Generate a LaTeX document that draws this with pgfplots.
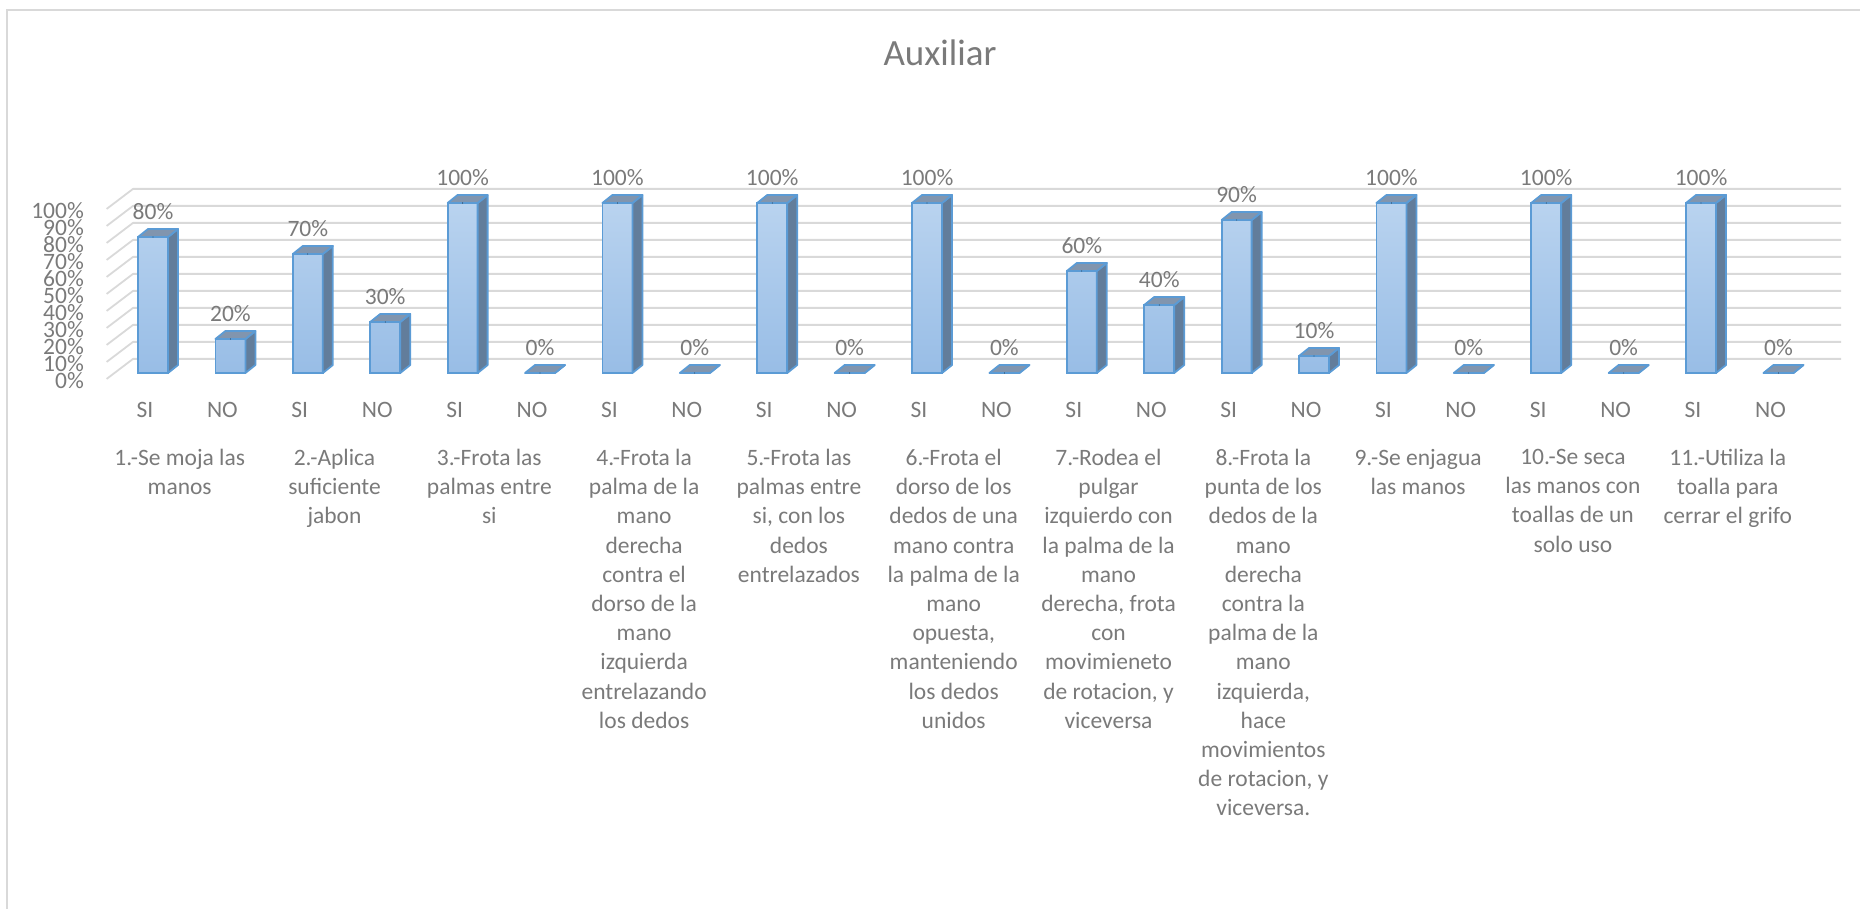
\documentclass[border=0pt]{standalone}
\usepackage{pgfplots}
\pgfplotsset{compat=1.18}
\usepackage{pgfplotstable}
\usepackage{fontspec}
\setmainfont{Carlito}
\definecolor{txt}{HTML}{7A7A7A}
\definecolor{gridc}{HTML}{D9D9D9}
\definecolor{edge}{HTML}{5B9BD5}
\definecolor{fronttop}{HTML}{B9D3EF}
\definecolor{frontbot}{HTML}{98BDE6}
\definecolor{sidec}{HTML}{627D9B}
\definecolor{topc}{HTML}{8195AE}
\pgfplotstableread{
x v
0 80
1 20
2 70
3 30
4 100
5 0
6 100
7 0
8 100
9 0
10 100
11 0
12 60
13 40
14 90
15 10
16 100
17 0
18 100
19 0
20 100
21 0
}\datatable
\begin{document}
\begin{tikzpicture}
\begin{axis}[
  x=77.4pt, y=1.7pt,
  xmin=-0.891, xmax=21.9, ymin=0, ymax=100,
  enlargelimits=false, clip=false,
  axis line style={draw=none},
  major tick length=0pt,
  ytick={0,10,...,100},
  yticklabels={0\%,10\%,20\%,30\%,40\%,50\%,60\%,70\%,80\%,90\%,100\%},
  yticklabel style={anchor=east, inner sep=0pt, yshift=-8pt, font=\fontsize{23.5}{28}\selectfont, text=txt},
  xtick={0,...,21},
  xticklabels={SI,NO,SI,NO,SI,NO,SI,NO,SI,NO,SI,NO,SI,NO,SI,NO,SI,NO,SI,NO,SI,NO},
  xticklabel style={anchor=base, inner sep=0pt, yshift=-44pt, xshift=-8pt, font=\fontsize{23.5}{28}\selectfont, text=txt},
  extra x ticks={0.5,2.5,4.5,6.5,8.5,10.5,12.5,14.5,16.5,18.5,20.5},
  extra x tick labels={
    {1.-Se moja las\\manos},
    {2.-Aplica\\suficiente\\jabon},
    {3.-Frota las\\palmas entre\\si},
    {4.-Frota la\\palma de la\\mano\\derecha\\contra el\\dorso de la\\mano\\izquierda\\entrelazando\\los dedos},
    {5.-Frota las\\palmas entre\\si, con los\\dedos\\entrelazados},
    {6.-Frota el\\dorso de los\\dedos de una\\mano contra\\la palma de la\\mano\\opuesta,\\manteniendo\\los dedos\\unidos},
    {7.-Rodea el\\pulgar\\izquierdo con\\la palma de la\\mano\\derecha, frota\\con\\movimieneto\\de rotacion, y\\viceversa},
    {8.-Frota la\\punta de los\\dedos de la\\mano\\derecha\\contra la\\palma de la\\mano\\izquierda,\\hace\\movimientos\\de rotacion, y\\viceversa.},
    {9.-Se enjagua\\las manos},
    {10.-Se seca\\las manos con\\toallas de un\\solo uso},
    {11.-Utiliza la\\toalla para\\cerrar el grifo}},
  extra x tick style={xticklabel style={anchor=north, align=center, yshift=-32pt, xshift=-4pt, font=\fontsize{23.5}{29.2}\selectfont}},
]
% frame
\coordinate (BL) at (axis cs:-1.977,-315.29);
\coordinate (TR) at (axis cs:22.054,219.41);
\draw[gridc, line width=2pt] (axis cs:-1.8863,-315.29) -- (axis cs:-1.8863,213.5) -- (axis cs:22.054,213.5);
% title
\node[anchor=base, font=\fontsize{37}{44}\selectfont, text=txt] at (axis cs:10.168,180.76) {Auxiliar};
% back wall gridlines and left wall
\pgfplotsinvokeforeach{0,10,...,100}{
  \draw[gridc, line width=1.8pt, line join=round] (axis cs:-0.5995,{#1-3.5}) -- (axis cs:-0.258,{#1+8.3}) -- (axis cs:21.81,{#1+8.3});
}
% side and top faces of the bars
\addplot[scatter, only marks, mark=*, mark size=0.1pt,
  visualization depends on={rawy \as \val},
  scatter/@pre marker code/.code={%
    \pgfkeys{/pgf/fpu=false}%
    \pgfmathsetmacro\H{1.7*\val}%
    \path[fill=sidec, draw=edge, line width=1.8pt, line join=round]
      (15pt,0pt) -- (25pt,8pt) -- (25pt,8pt-\H pt) -- (15pt,-\H pt) -- cycle;
    \path[fill=topc, draw=edge, line width=1.8pt, line join=round]
      (-15pt,0pt) -- (15pt,0pt) -- (25pt,8pt) -- (-5pt,8pt) -- cycle;
    \scope[draw=none, fill=none]
  },
  scatter/@post marker code/.code={\endscope},
] table[x=x, y=v] {\datatable};
% front faces
\addplot[ybar, bar width=30pt, bar shift=0pt, draw=edge, line width=1.8pt,
  top color=fronttop, bottom color=frontbot,
  restrict y to domain=0.5:200] table[x=x, y=v] {\datatable};
% front bottom line for zero bars
\addplot[ybar, bar width=30pt, bar shift=0pt, draw=edge, line width=1.8pt, fill=none,
  restrict y to domain=-1:0.5] table[x=x, y=v] {\datatable};
% value labels
\addplot[ybar, bar width=30pt, bar shift=0pt, draw=none, fill=none,
  nodes near coords={\pgfmathprintnumber[assume math mode=true]{\pgfplotspointmeta}\%},
  every node near coord/.style={anchor=base, inner sep=0pt, yshift=17.5pt, font=\fontsize{23.5}{28}\selectfont, text=txt},
] table[x=x, y=v] {\datatable};
\end{axis}
\pgfresetboundingbox
\path[use as bounding box] (BL) rectangle (TR);
\end{tikzpicture}
\end{document}
